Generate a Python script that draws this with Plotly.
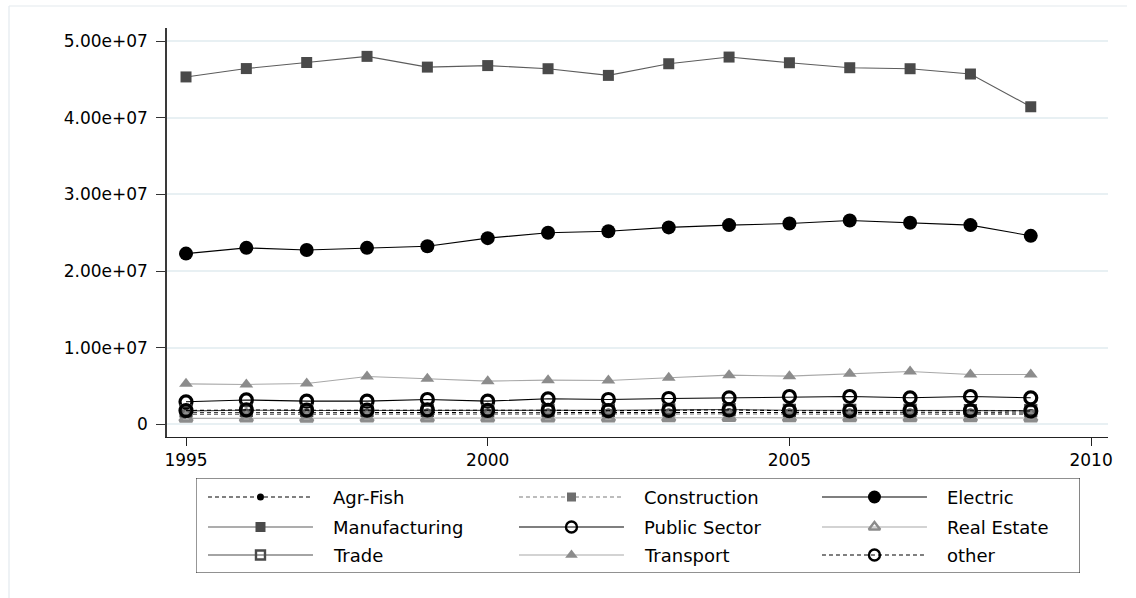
import plotly.graph_objects as go

# Energy use by sector, 1995-2009
years = list(range(1995, 2010))

agr_fish = [1.52e6, 1.55e6, 1.53e6, 1.52e6, 1.55e6, 1.53e6, 1.55e6, 1.55e6, 1.57e6, 1.60e6, 1.57e6, 1.55e6, 1.55e6, 1.55e6, 1.50e6]
construction = [1.30e6, 1.32e6, 1.30e6, 1.32e6, 1.33e6, 1.32e6, 1.34e6, 1.35e6, 1.36e6, 1.38e6, 1.36e6, 1.35e6, 1.34e6, 1.33e6, 1.30e6]
electric = [2.228e7, 2.303e7, 2.276e7, 2.303e7, 2.325e7, 2.430e7, 2.500e7, 2.52e7, 2.57e7, 2.60e7, 2.62e7, 2.66e7, 2.63e7, 2.60e7, 2.46e7]
manufacturing = [4.532e7, 4.641e7, 4.72e7, 4.80e7, 4.66e7, 4.68e7, 4.639e7, 4.552e7, 4.704e7, 4.791e7, 4.717e7, 4.652e7, 4.639e7, 4.570e7, 4.143e7]
public_sector = [2.96e6, 3.20e6, 3.04e6, 3.04e6, 3.26e6, 3.04e6, 3.35e6, 3.26e6, 3.39e6, 3.48e6, 3.65e6, 3.65e6, 3.48e6, 3.65e6, 3.48e6]
real_estate = [0.80e6, 0.82e6, 0.80e6, 0.82e6, 0.83e6, 0.82e6, 0.84e6, 0.84e6, 0.86e6, 0.88e6, 0.86e6, 0.85e6, 0.85e6, 0.85e6, 0.84e6]
trade = [1.78e6, 1.85e6, 1.82e6, 1.82e6, 1.82e6, 1.80e6, 1.85e6, 1.85e6, 1.90e6, 1.95e6, 1.85e6, 1.85e6, 1.85e6, 1.82e6, 1.80e6]
transport = [5.30e6, 5.22e6, 5.35e6, 6.26e6, 5.96e6, 5.65e6, 5.78e6, 5.74e6, 6.09e6, 6.43e6, 6.30e6, 6.61e6, 6.91e6, 6.52e6, 6.52e6]
other = [1.82e6, 1.90e6, 1.86e6, 1.86e6, 1.90e6, 1.85e6, 1.85e6, 1.80e6, 1.85e6, 1.90e6, 1.80e6, 1.76e6, 1.80e6, 1.80e6, 1.76e6]

y_tickvals = [0, 1e7, 2e7, 3e7, 4e7, 5e7]
y_ticktext = ["0", "1.00e+07", "2.00e+07", "3.00e+07", "4.00e+07", "5.00e+07"]
x_tickvals = [1995, 2000, 2005, 2010]

# name, values, marker symbol, marker colour, marker size, line colour, dash
series = [
    ("Agr-Fish", agr_fish, "circle", "#000000", 8, "#000000", "4px,3px"),
    ("Construction", construction, "square", "#6e6e6e", 10, "#7a7a7a", "4px,3px"),
    ("Electric", electric, "circle", "#000000", 14, "#000000", "solid"),
    ("Manufacturing", manufacturing, "square", "#4a4a4a", 11, "#5c5c5c", "solid"),
    ("Public Sector", public_sector, "circle-open", "#000000", 12, "#000000", "solid"),
    ("Real Estate", real_estate, "triangle-up-open", "#8c8c8c", 11, "#a8a8a8", "solid"),
    ("Trade", trade, "square-open", "#4a4a4a", 10, "#4a4a4a", "solid"),
    ("Transport", transport, "triangle-up", "#8c8c8c", 12, "#a8a8a8", "solid"),
    ("other", other, "circle-open", "#000000", 12, "#000000", "4px,3px"),
]

FONT = "DejaVu Sans"
fig = go.Figure()

for name, vals, sym, mcol, msize, lcol, dash in series:
    open_marker = sym.endswith("open")
    fig.add_trace(go.Scatter(
        x=years, y=vals, mode="lines+markers", name=name, showlegend=False,
        line=dict(color=lcol, width=1.1, dash=dash),
        marker=dict(symbol=sym, size=msize, color=mcol,
                    line=dict(color=mcol, width=3.2 if open_marker else 0)),
        xaxis="x", yaxis="y",
    ))

# hand-built key: 3 columns x 3 rows below the plot
KEY_W, KEY_H = 884, 95
col_x = [12, 323, 626]
row_y = [19, 49, 77]
sample_len = 105
for i, (name, vals, sym, mcol, msize, lcol, dash) in enumerate(series):
    r, c = divmod(i, 3)
    x0 = col_x[c]
    y0 = row_y[r]
    open_marker = sym.endswith("open")
    fig.add_trace(go.Scatter(
        x=[x0, x0 + sample_len], y=[y0, y0], mode="lines", showlegend=False,
        line=dict(color=lcol, width=1.2, dash=dash), hoverinfo="skip",
        xaxis="x2", yaxis="y2",
    ))
    fig.add_trace(go.Scatter(
        x=[x0 + sample_len / 2], y=[y0], mode="markers", showlegend=False,
        marker=dict(symbol=sym, size=msize - 1, color=mcol,
                    line=dict(color=mcol, width=2.4 if open_marker else 0)),
        hoverinfo="skip", xaxis="x2", yaxis="y2",
    ))
    fig.add_annotation(
        x=x0 + sample_len + 18, y=y0, xref="x2", yref="y2", text=name,
        showarrow=False, xanchor="left", yanchor="middle",
        font=dict(family=FONT, size=18, color="#000000"),
    )

fig.add_shape(type="rect", xref="x2", yref="y2", x0=0, x1=KEY_W, y0=0, y1=KEY_H,
              line=dict(color="#222222", width=1), layer="below")

# outer frame: top and left edges of the graph region
fig.add_shape(type="line", xref="paper", yref="paper",
              x0=-0.1679, x1=1.0202, y0=1.04, y1=1.04,
              line=dict(color="#e3eaee", width=1.2), layer="below")
fig.add_shape(type="line", xref="paper", yref="paper",
              x0=-0.1679, x1=-0.1679, y0=1.04, y1=-0.1,
              line=dict(color="#e3eaee", width=1.2), layer="below")

fig.update_layout(
    width=1136, height=598,
    margin=dict(l=167, r=28, t=28, b=20),
    paper_bgcolor="white", plot_bgcolor="white",
    showlegend=False,
    font=dict(family=FONT, size=17, color="#000000"),
    xaxis=dict(
        domain=[0, 1], anchor="y",
        range=[1994.685, 2010.28], tickmode="array", tickvals=x_tickvals,
        ticks="outside", ticklen=8, tickwidth=1, tickcolor="#222222",
        showline=True, linecolor="#222222", linewidth=1,
        showgrid=False, zeroline=False,
        tickfont=dict(family=FONT, size=17, color="#000000"),
    ),
    yaxis=dict(
        domain=[0.2564, 1], anchor="x",
        range=[-1.63e6, 5.17e7], tickmode="array",
        tickvals=y_tickvals, ticktext=y_ticktext,
        ticks="outside", ticklen=9, tickwidth=1, tickcolor="#333333",
        ticklabelstandoff=5,
        showline=True, linecolor="#3a3a3a", linewidth=1.5,
        showgrid=True, gridcolor="#e8f0f3", gridwidth=1.5, zeroline=False,
        tickfont=dict(family=FONT, size=17, color="#000000"),
    ),
    xaxis2=dict(domain=[0.0308, 0.9702], anchor="y2", range=[0, KEY_W],
                visible=False, fixedrange=True),
    yaxis2=dict(domain=[0.00909, 0.1818], anchor="x2", range=[KEY_H, 0],
                visible=False, fixedrange=True),
)

fig.write_html("out.html")
